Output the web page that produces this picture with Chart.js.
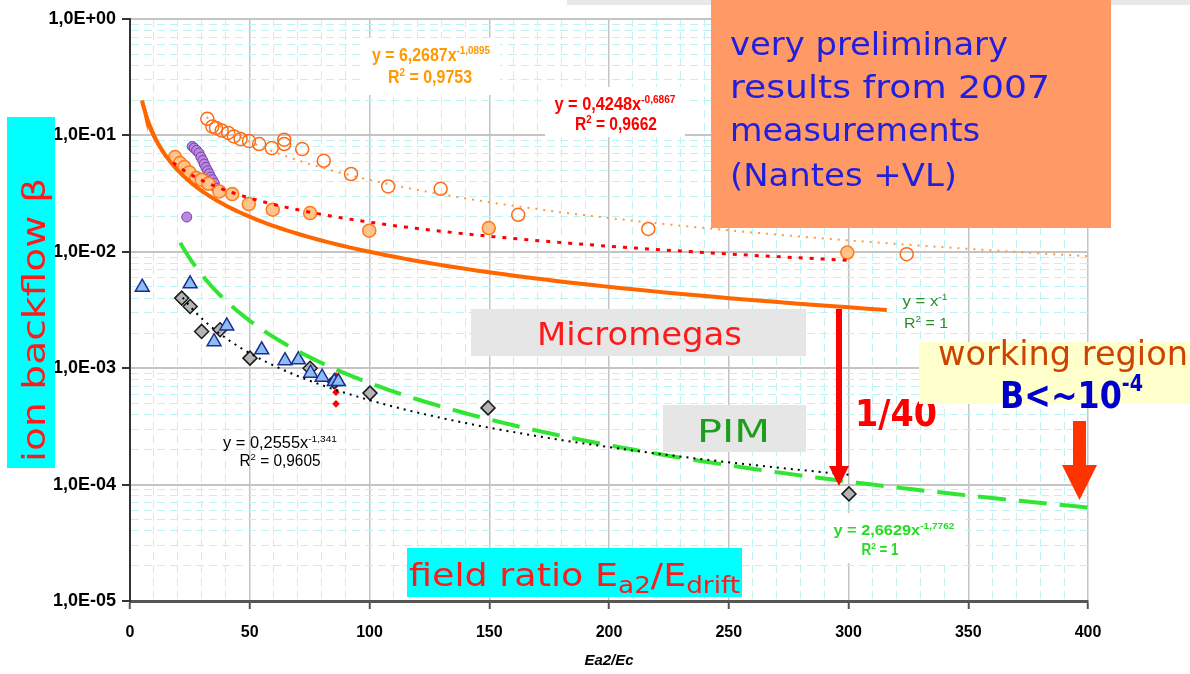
<!DOCTYPE html>
<html>
<head>
<meta charset="utf-8">
<script src="https://cdn.jsdelivr.net/npm/chart.js@4.4.1/dist/chart.umd.min.js"></script>
<style>
  html, body { margin: 0; padding: 0; background: #ffffff; }
  #wrap { width: 1190px; height: 674px; }
  canvas { display: block; }
</style>
</head>
<body>
<div id="wrap"><canvas id="c" width="1190" height="674" style="width:1190px;height:674px"></canvas></div>
<script>
// ---------- measured ion backflow vs. field ratio ----------
// Micromegas, open circles
const openX = [32.3, 34.4, 35.9, 38.3, 41.0, 43.4, 46.2, 49.7, 53.9, 59.2, 64.4, 64.4, 71.9, 80.9, 92.3, 107.8, 129.7, 162.1, 216.4, 324.3];
const openY = [0.139, 0.119, 0.116, 0.110, 0.105, 0.098, 0.093, 0.0894, 0.0843, 0.0778, 0.0918, 0.0843, 0.0763, 0.0605, 0.0466, 0.0364, 0.0348, 0.0208, 0.0157, 0.00955];
// Micromegas, filled circles
const filledX = [18.8, 20.9, 22.7, 24.8, 27.6, 29.9, 32.7, 37.3, 42.7, 49.6, 59.6, 75.2, 99.9, 149.8, 299.5];
const filledY = [0.0652, 0.0578, 0.0534, 0.0481, 0.0430, 0.0416, 0.0384, 0.0330, 0.0313, 0.0257, 0.0230, 0.0215, 0.0152, 0.0160, 0.00986];
// Micromegas, purple series
const purpleX = [26.0, 26.8, 27.8, 28.8, 29.6, 30.4, 31.0, 31.7, 32.4, 33.1, 33.7, 34.4, 35.2, 35.9, 23.7];
const purpleY = [0.0804, 0.0778, 0.0743, 0.0705, 0.0652, 0.0609, 0.0567, 0.0531, 0.0497, 0.0468, 0.0438, 0.0416, 0.0389, 0.0353, 0.0199];
// PIM, triangles
const triX = [5.1, 25.1, 40.4, 35.1, 55.0, 64.7, 70.3, 75.4, 80.2, 85.3, 87.0];
const triY = [0.00497, 0.00531, 0.00231, 0.00169, 0.00144, 0.00116, 0.00118, 0.000906, 0.000837, 0.000767, 0.000767];
// PIM, diamonds
const diaX = [21.6, 25.1, 29.9, 37.6, 50.1, 75.2, 85.3, 100.2, 149.5, 300.2];
const diaY = [0.0040, 0.00339, 0.00207, 0.00214, 0.00122, 0.00100, 0.000767, 0.000611, 0.000456, 0.0000832];
// PIM, small red diamonds
const redX = [86.0, 86.0, 86.0, 86.0];
const redY = [0.000859, 0.000719, 0.000622, 0.000494];

// ---------- power-law fits  y = a * x^b ----------
const fitA    = [6.2687, 0.4248, 0.2555, 1, 2.6629];
const fitB    = [-1.0895, -0.6867, -1.341, -1, -1.7762];
const fitFrom = [32, 18, 22, 5, 21];
const fitTo   = [400, 300, 300, 316, 400];

// ---------- axes ----------
const xTickValues = [0, 50, 100, 150, 200, 250, 300, 350, 400];
const xTickLabels = ['0', '50', '100', '150', '200', '250', '300', '350', '400'];
const yDecades = [1e-5, 1e-4, 1e-3, 1e-2, 1e-1, 1];
const yTickLabels = ['1,0E-05', '1,0E-04', '1,0E-03', '1,0E-02', '1,0E-01', '1,0E+00'];

const pts = (xs, ys) => xs.map((x, i) => ({ x, y: ys[i] }));

function fitCurve(i, n) {
  const out = [];
  const l0 = Math.log(fitFrom[i]), l1 = Math.log(fitTo[i]);
  for (let k = 0; k <= n; k++) {
    const x = Math.exp(l0 + (l1 - l0) * k / n);
    out.push({ x, y: fitA[i] * Math.pow(x, fitB[i]) });
  }
  return out;
}

// ---------- text helpers ----------
function segFont(o, s) {
  const sz = (s.sup || s.sub) ? o.size * (o.small || 0.62) : o.size;
  return `${o.style || 'normal'} ${o.weight || 'normal'} ${sz}px ${o.family}`;
}
function drawRich(ctx, segs, x, y, o) {
  ctx.save();
  let w = 0;
  const ws = segs.map(s => { ctx.font = segFont(o, s); const m = ctx.measureText(s.t).width; w += m; return m; });
  const sx = o.width ? o.width / w : (o.sx || 1);
  const total = w * sx;
  const start = o.align === 'center' ? x - total / 2 : (o.align === 'right' ? x - total : x);
  ctx.fillStyle = o.color;
  ctx.textAlign = 'left';
  ctx.textBaseline = 'alphabetic';
  ctx.translate(start, y);
  ctx.scale(sx, 1);
  let cx = 0;
  segs.forEach((s, i) => {
    ctx.font = segFont(o, s);
    const dy = s.sup ? -o.size * (o.rise || 0.4) : (s.sub ? o.size * 0.22 : 0);
    ctx.fillText(s.t, cx, dy);
    cx += ws[i];
  });
  ctx.restore();
}
function box(ctx, x, y, w, h, color) {
  ctx.fillStyle = color;
  ctx.fillRect(x, y, w, h);
}
function arrow(ctx, x, y0, y1, shaft, headW, headH, color) {
  ctx.save();
  ctx.fillStyle = color;
  ctx.fillRect(x - shaft / 2, y0, shaft, y1 - headH - y0 + 1);
  ctx.beginPath();
  ctx.moveTo(x - headW / 2, y1 - headH);
  ctx.lineTo(x + headW / 2, y1 - headH);
  ctx.lineTo(x, y1);
  ctx.closePath();
  ctx.fill();
  ctx.restore();
}

const SANS = '"Liberation Sans", Arial, sans-serif';
const HAND = '"DejaVu Sans", sans-serif';

// white backgrounds of the fit labels sit over the grid, under the data
const labelBackgrounds = {
  id: 'labelBackgrounds',
  beforeDatasetsDraw(chart) {
    const ctx = chart.ctx;
    box(ctx, 362, 38, 138, 57, '#ffffff');
    box(ctx, 545, 87, 140, 50, '#ffffff');
    box(ctx, 825, 513, 140, 50, '#ffffff');
  }
};

// fit equations, titles and callouts
const callouts = {
  id: 'callouts',
  afterDraw(chart) {
    const ctx = chart.ctx;
    // fit equations
    drawRich(ctx, [{ t: 'y = 6,2687x' }, { t: '-1,0895', sup: true }], 431, 61,
      { size: 18, weight: 'bold', family: SANS, color: '#FF9900', width: 118, align: 'center' });
    drawRich(ctx, [{ t: 'R' }, { t: '2', sup: true }, { t: ' = 0,9753' }], 430, 83,
      { size: 18, weight: 'bold', family: SANS, color: '#FF9900', width: 84, align: 'center' });
    drawRich(ctx, [{ t: 'y = 0,4248x' }, { t: '-0,6867', sup: true }], 615, 110,
      { size: 18, weight: 'bold', family: SANS, color: '#FF0000', width: 121, align: 'center' });
    drawRich(ctx, [{ t: 'R' }, { t: '2', sup: true }, { t: ' = 0,9662' }], 616, 130,
      { size: 18, weight: 'bold', family: SANS, color: '#FF0000', width: 82, align: 'center' });
    drawRich(ctx, [{ t: 'y = 0,2555x' }, { t: '-1,341', sup: true }], 280, 448,
      { size: 16, family: SANS, color: '#000000', width: 114, align: 'center' });
    drawRich(ctx, [{ t: 'R' }, { t: '2', sup: true }, { t: ' = 0,9605' }], 280, 466,
      { size: 16, family: SANS, color: '#000000', width: 81, align: 'center' });
    drawRich(ctx, [{ t: 'y = x' }, { t: '-1', sup: true }], 925, 306,
      { size: 15, family: SANS, color: '#2E8B2E', width: 45, align: 'center' });
    drawRich(ctx, [{ t: 'R' }, { t: '2', sup: true }, { t: ' = 1' }], 926, 328,
      { size: 15, family: SANS, color: '#2E8B2E', width: 44, align: 'center' });
    drawRich(ctx, [{ t: 'y = 2,6629x' }, { t: '-1,7762', sup: true }], 894, 535,
      { size: 15, weight: 'bold', family: SANS, color: '#22DD22', width: 121, align: 'center' });
    drawRich(ctx, [{ t: 'R' }, { t: '2', sup: true }, { t: ' = 1' }], 880, 555,
      { size: 16, weight: 'bold', family: SANS, color: '#22DD22', width: 37, align: 'center' });

    // strip along the top edge
    box(ctx, 567, 0, 623, 5, '#E8E8E8');

    // status note
    box(ctx, 711, 0, 400, 228, '#FF9966');
    const note = { size: 32, family: HAND, color: '#1F1FDD' };
    drawRich(ctx, [{ t: 'very preliminary' }], 730, 55, Object.assign({ width: 278 }, note));
    drawRich(ctx, [{ t: 'results from 2007' }], 730, 98, Object.assign({ width: 320 }, note));
    drawRich(ctx, [{ t: 'measurements' }], 730, 141, Object.assign({ width: 250 }, note));
    drawRich(ctx, [{ t: '(Nantes +VL)' }], 730, 186, Object.assign({ width: 227 }, note));

    // detector labels
    box(ctx, 471, 309, 335, 47, '#E6E6E6');
    drawRich(ctx, [{ t: 'Micromegas' }], 537, 345, { size: 32, family: HAND, color: '#FF1A1A', width: 205 });
    box(ctx, 663, 405, 143, 47, '#E6E6E6');
    drawRich(ctx, [{ t: 'PIM' }], 697, 442, { size: 32, family: HAND, color: '#1E9E1E', width: 73 });

    // gain between the two detectors
    arrow(ctx, 839, 309, 486, 6, 20, 20, '#FF0000');
    drawRich(ctx, [{ t: '1/40' }], 855, 426, { size: 38, weight: 'bold', family: HAND, color: '#FF0000', width: 82 });

    // working region
    box(ctx, 919, 342, 271, 62, '#FFFFCC');
    drawRich(ctx, [{ t: 'working region' }], 938, 365, { size: 33, family: HAND, color: '#CC4400', width: 250 });
    drawRich(ctx, [{ t: 'B<~10' }, { t: '-4', sup: true }], 1000, 408,
      { size: 38, weight: 'bold', family: HAND, color: '#0000CC', width: 143, rise: 0.45, small: 0.6 });
    arrow(ctx, 1079.5, 421, 500, 13, 35, 35, '#FF3300');

    // axis titles
    box(ctx, 7, 117, 48, 351, '#00FFFF');
    ctx.save();
    ctx.translate(45, 320);
    ctx.rotate(-Math.PI / 2);
    drawRich(ctx, [{ t: 'ion backflow β' }], 0, 0, { size: 32, family: HAND, color: '#FF1A1A', width: 284, align: 'center' });
    ctx.restore();

    box(ctx, 407, 548, 335, 49, '#00FFFF');
    drawRich(ctx, [{ t: 'field ratio E' }, { t: 'a2', sub: true }, { t: '/E' }, { t: 'drift', sub: true }], 409, 586,
      { size: 32, family: HAND, color: '#FF1A1A', width: 331, small: 0.72 });
  }
};

const isMajorY = c => c.tick && yDecades.includes(c.tick.value);
const isMajorX = c => c.tick && xTickValues.includes(c.tick.value);
const GRID_MAJOR = '#C4C4C4';
const GRID_MINOR = '#BFF3F3';

new Chart(document.getElementById('c'), {
  type: 'scatter',
  data: {
    datasets: [
      // fitted curves
      { label: 'fit open', data: fitCurve(0, 120), showLine: true, pointRadius: 0, borderColor: '#FF9A40', borderWidth: 2, borderDash: [2, 6], order: 0 },
      { label: 'fit filled', data: fitCurve(1, 120), showLine: true, pointRadius: 0, borderColor: '#FF0000', borderWidth: 3, borderDash: [4, 7], order: 0 },
      { label: 'fit PIM', data: fitCurve(2, 120), showLine: true, pointRadius: 0, borderColor: '#000000', borderWidth: 2, borderDash: [2, 5], order: 0 },
      { label: 'y = x^-1', data: fitCurve(3, 160), showLine: true, pointRadius: 0, borderColor: '#FF6600', borderWidth: 4, order: 0 },
      { label: 'PIM model', data: fitCurve(4, 160), showLine: true, pointRadius: 0, borderColor: '#33E533', borderWidth: 4, borderDash: [28, 13], order: 0 },
      // measurements
      { label: 'open', data: pts(openX, openY), pointStyle: 'circle', pointRadius: 6.5, borderColor: '#FF6A13', borderWidth: 1.5, backgroundColor: 'rgba(255,255,255,0)', order: 1 },
      { label: 'filled', data: pts(filledX, filledY), pointStyle: 'circle', pointRadius: 6.5, borderColor: '#FF7A1A', borderWidth: 1.5, backgroundColor: '#FFC48C', order: 1 },
      { label: 'purple', data: pts(purpleX, purpleY), pointStyle: 'circle', pointRadius: 5, borderColor: '#7B3FA8', borderWidth: 1, backgroundColor: '#B98AE0', order: 1 },
      { label: 'triangles', data: pts(triX, triY), pointStyle: 'triangle', pointRadius: 8, borderColor: '#1B2E8F', borderWidth: 1.5, backgroundColor: '#8EBDF5', order: 1 },
      { label: 'diamonds', data: pts(diaX, diaY), pointStyle: 'rectRot', pointRadius: 7, borderColor: '#1A1A1A', borderWidth: 1.5, backgroundColor: '#B4B4B4', order: 1 },
      { label: 'red', data: pts(redX, redY), pointStyle: 'rectRot', pointRadius: 3.8, borderWidth: 0, backgroundColor: '#FF0000', order: 1 }
    ]
  },
  options: {
    responsive: false,
    animation: false,
    devicePixelRatio: 1,
    layout: { padding: { top: 19, right: 102, bottom: 0, left: 0 } },
    plugins: { legend: { display: false }, tooltip: { enabled: false } },
    scales: {
      x: {
        type: 'linear',
        min: 0, max: 400,
        afterBuildTicks(scale) {
          const t = [];
          for (let v = 0; v <= 400; v += 10) t.push({ value: v });
          scale.ticks = t;
        },
        afterFit(scale) { scale.height = 73; },
        ticks: {
          autoSkip: false, maxRotation: 0, padding: 14, color: '#000000',
          font: { family: SANS, size: 16, weight: 'bold' },
          callback(v) { const k = xTickValues.indexOf(v); return k >= 0 ? xTickLabels[k] : ''; }
        },
        grid: {
          color: c => isMajorX(c) ? GRID_MAJOR : GRID_MINOR,
          lineWidth: c => isMajorX(c) ? 1.5 : 1,
          tickColor: c => isMajorX(c) ? '#555555' : 'rgba(0,0,0,0)',
          tickLength: 8, tickWidth: 2
        },
        border: { color: '#555555', width: 3, dash: c => (c.tick && !isMajorX(c)) ? [8, 5] : [] },
        title: { display: true, text: 'Ea2/Ec', color: '#000000', padding: { top: 0, bottom: 4 },
          font: { family: SANS, size: 15, weight: 'bold', style: 'italic' } }
      },
      y: {
        type: 'logarithmic',
        min: 1e-5, max: 1,
        afterBuildTicks(scale) {
          const t = [];
          yDecades.forEach((d, i) => {
            t.push({ value: d });
            if (i < yDecades.length - 1) for (let m = 2; m <= 9; m++) t.push({ value: d * m });
          });
          scale.ticks = t;
        },
        afterFit(scale) { scale.width = 130; },
        ticks: {
          autoSkip: false, padding: 6, color: '#000000',
          font: { family: SANS, size: 18, weight: 'bold' },
          callback(v) { const k = yDecades.indexOf(v); return k >= 0 ? yTickLabels[k] : ''; }
        },
        grid: {
          color: c => isMajorY(c) ? GRID_MAJOR : GRID_MINOR,
          lineWidth: c => isMajorY(c) ? 2 : 1,
          tickColor: c => isMajorY(c) ? '#333333' : 'rgba(0,0,0,0)',
          tickLength: 8, tickWidth: 2
        },
        border: { color: '#333333', width: 2, dash: c => (c.tick && !isMajorY(c)) ? [8, 5] : [] }
      }
    }
  },
  plugins: [labelBackgrounds, callouts]
});
</script>
</body>
</html>
